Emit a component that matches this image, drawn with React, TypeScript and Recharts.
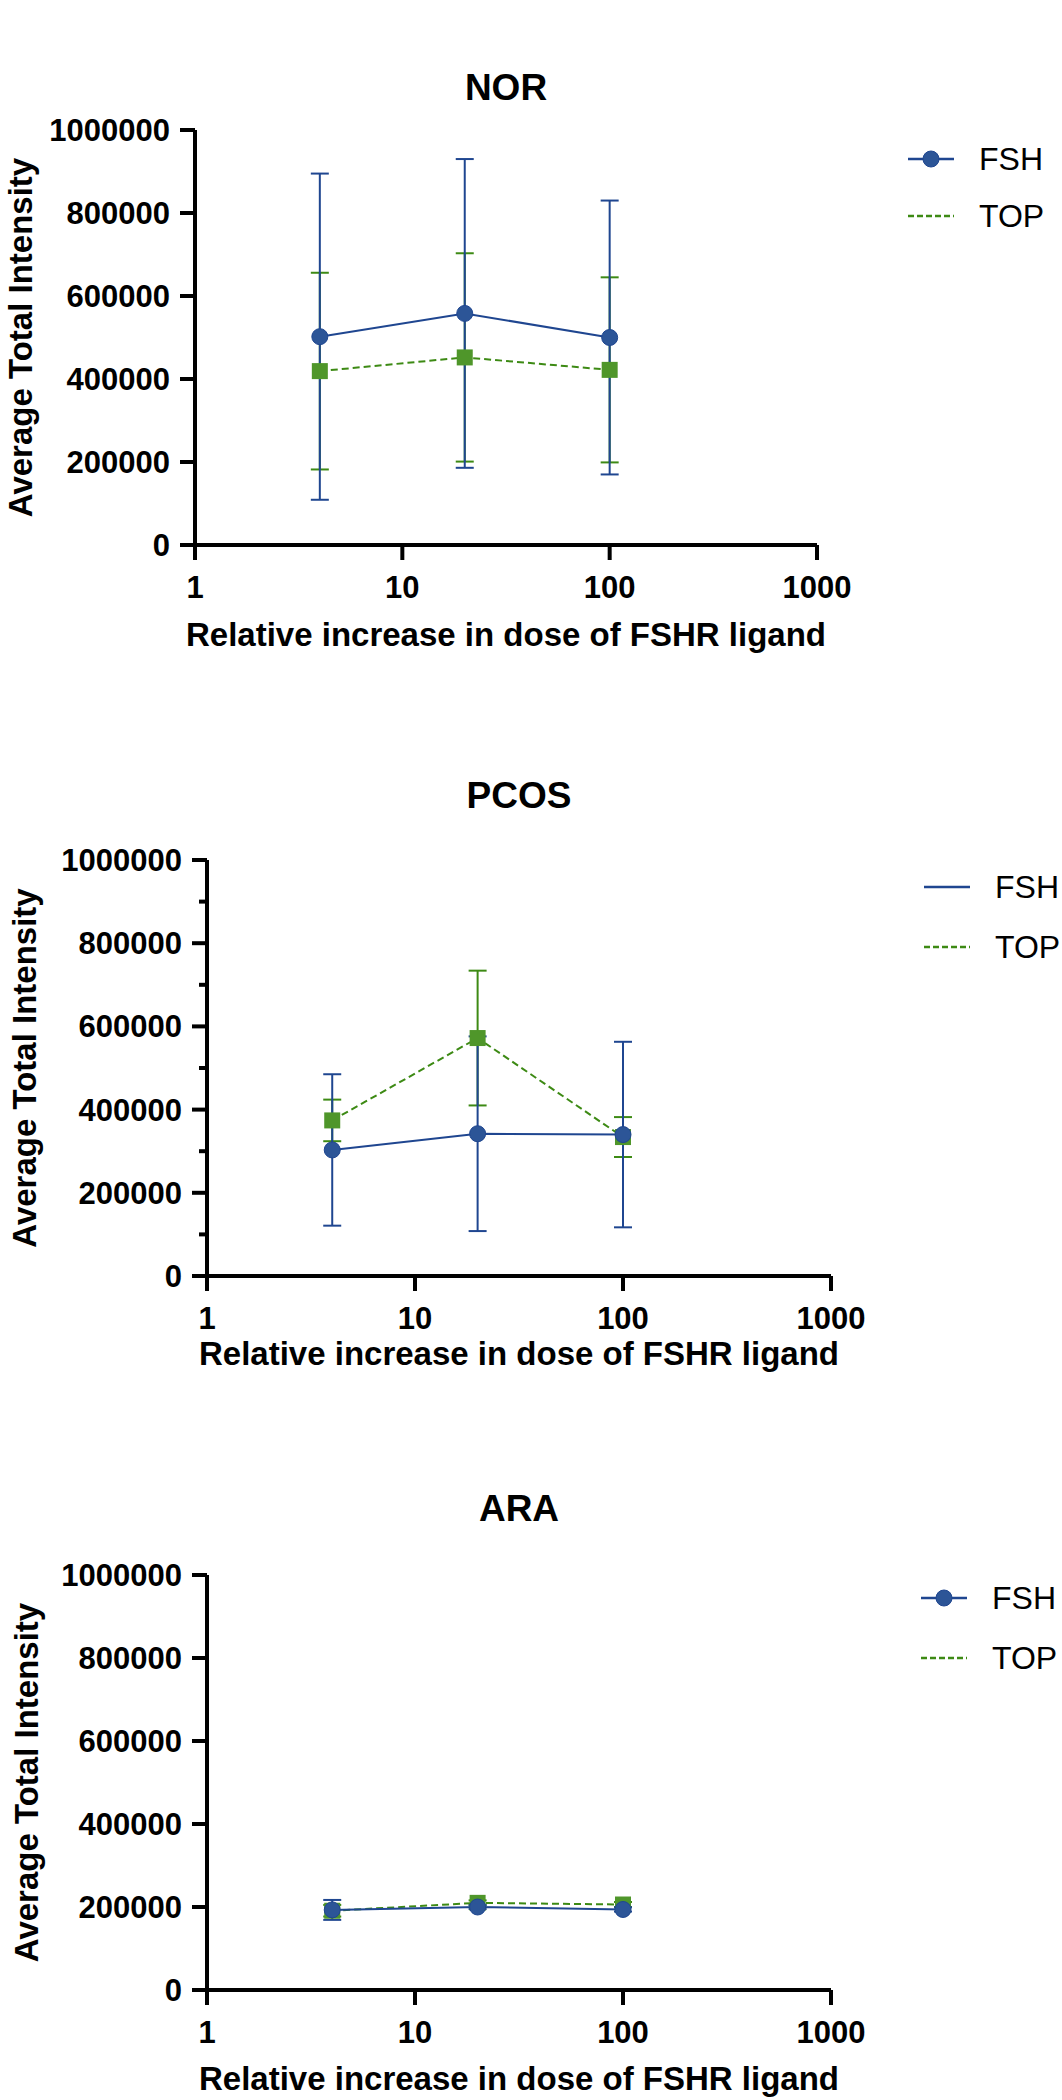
import React from "react";
import { LineChart, Line, XAxis, YAxis, ErrorBar } from "recharts";

// dose (relative increase) on the log x axis
const doses = [4, 20, 100];
const xTicks = [1, 10, 100, 1000];
const yTicks = [0, 200000, 400000, 600000, 800000, 1000000];
const yTicksWithMinor = [0, 100000, 200000, 300000, 400000, 500000, 600000, 700000, 800000, 900000, 1000000];

// NOR
const norFsh = [502000, 558000, 500000];
const norFshSd = [393000, 372000, 330000];
const norTop = [419000, 452000, 422000];
const norTopSd = [237000, 251000, 223000];

// PCOS
const pcosFsh = [303000, 342000, 340000];
const pcosFshSd = [182000, 234000, 223000];
const pcosTop = [374000, 572000, 334000];
const pcosTopSd = [50000, 162000, 48000];

// ARA
const araFsh = [193000, 200000, 194000];
const araFshSd = [24000, 5000, 5000];
const araTop = [191000, 210000, 206000];
const araTopSd = [14000, 6000, 6000];

const FSH_LINE = "#1f4690";
const FSH_FILL = "#2c5597";
const TOP_LINE = "#3d8a14";
const TOP_FILL = "#4f962a";
const FONT = "'Liberation Sans', Arial, Helvetica, sans-serif";

const TICK_SIZE = 15;
const TICK_MARGIN = 10;

type Panel = {
  title: string;
  fsh: number[];
  fshSd: number[];
  top: number[];
  topSd: number[];
  boxTop: number;
  height: number;
  marginTop: number;
  yWidth: number;
  marginRight: number;
  xHeight: number;
  titleY: number;
  xLabelY: number;
  yLabelX: number;
  legendX: number;
  legendY: number;
  legendGap: number;
  fshLegendDot: boolean;
  minor: boolean;
};

const panels: Panel[] = [
  {
    title: "NOR", fsh: norFsh, fshSd: norFshSd, top: norTop, topSd: norTopSd,
    boxTop: 0, height: 680, marginTop: 130, yWidth: 195, marginRight: 245, xHeight: 135,
    titleY: 87, xLabelY: 634, yLabelX: 20,
    legendX: 908, legendY: 159, legendGap: 57, fshLegendDot: true, minor: false,
  },
  {
    title: "PCOS", fsh: pcosFsh, fshSd: pcosFshSd, top: pcosTop, topSd: pcosTopSd,
    boxTop: 700, height: 680, marginTop: 160, yWidth: 207, marginRight: 231, xHeight: 104,
    titleY: 795, xLabelY: 1353, yLabelX: 24,
    legendX: 924, legendY: 887, legendGap: 60, fshLegendDot: false, minor: true,
  },
  {
    title: "ARA", fsh: araFsh, fshSd: araFshSd, top: araTop, topSd: araTopSd,
    boxTop: 1400, height: 700, marginTop: 175, yWidth: 207, marginRight: 231, xHeight: 110,
    titleY: 1508, xLabelY: 2078, yLabelX: 26,
    legendX: 921, legendY: 1598, legendGap: 60, fshLegendDot: true, minor: false,
  },
];

const tickStyle = { fill: "#000", fontSize: 31, fontWeight: 700, fontFamily: FONT };
const axisStroke = { stroke: "#000", strokeWidth: 4 };

const squareDot = (p: any) => (
  <rect key={`sq-${p.index}`} x={p.cx - 8} y={p.cy - 8} width={16} height={16} fill={TOP_FILL} />
);

// y tick: long tick + label on 200000 steps, short unlabelled tick between
const YTick = (props: any) => {
  const { x, y, payload } = props;
  const v = payload.value as number;
  const major = v % 200000 === 0;
  const axisX = x + TICK_SIZE + TICK_MARGIN;
  return (
    <g>
      <line x1={axisX - (major ? TICK_SIZE : 8)} x2={axisX} y1={y} y2={y} stroke="#000" strokeWidth={4} />
      {major && (
        <text x={x} y={y} dy="0.355em" textAnchor="end" {...tickStyle}>
          {String(v)}
        </text>
      )}
    </g>
  );
};

function Legend({ p }: { p: Panel }) {
  const rows = [
    { name: "FSH", color: FSH_LINE, dash: undefined as string | undefined, dot: p.fshLegendDot },
    { name: "TOP", color: TOP_LINE, dash: "6 3", dot: false },
  ];
  return (
    <>
      {rows.map((r, i) => (
        <div
          key={r.name}
          style={{
            position: "absolute",
            left: p.legendX,
            top: p.legendY + i * p.legendGap - 20,
            height: 40,
            display: "flex",
            alignItems: "center",
          }}
        >
          <svg width={46} height={20} style={{ display: "block" }}>
            <line x1={0} y1={10} x2={46} y2={10} stroke={r.color} strokeWidth={2.5} strokeDasharray={r.dash} />
            {r.dot && <circle cx={23} cy={10} r={8} fill={FSH_FILL} stroke={FSH_LINE} strokeWidth={1} />}
          </svg>
          <span style={{ marginLeft: 25, fontSize: 32, fontFamily: FONT, lineHeight: "32px", color: "#000" }}>
            {r.name}
          </span>
        </div>
      ))}
    </>
  );
}

const textBox = {
  position: "absolute" as const,
  transform: "translate(-50%, -50%)",
  fontWeight: 700,
  fontFamily: FONT,
  whiteSpace: "nowrap" as const,
  color: "#000",
};

function PanelChart({ p }: { p: Panel }) {
  const rows = doses.map((x, i) => ({
    x,
    fsh: p.fsh[i],
    fshSd: p.fshSd[i],
    top: p.top[i],
    topSd: p.topSd[i],
  }));
  const plotLeft = p.yWidth;
  const plotRight = 1062 - p.marginRight;
  const cx = (plotLeft + plotRight) / 2;

  const yLabel = (props: any) => {
    const vb = props.viewBox || {};
    const lx = (vb.x || 0) + p.yLabelX;
    const ly = (vb.y || 0) + (vb.height || 0) / 2;
    return (
      <text
        x={lx}
        y={ly}
        transform={`rotate(-90 ${lx} ${ly})`}
        textAnchor="middle"
        dominantBaseline="central"
        fill="#000"
        fontSize={33}
        fontWeight={700}
        fontFamily={FONT}
      >
        Average Total Intensity
      </text>
    );
  };

  return (
    <>
      <div style={{ ...textBox, left: cx, top: p.titleY, fontSize: 37, lineHeight: "37px" }}>{p.title}</div>
      <div style={{ position: "absolute", left: 0, top: p.boxTop, width: 1062, height: p.height }}>
        <LineChart
          width={1062}
          height={p.height}
          data={rows}
          margin={{ top: p.marginTop, right: p.marginRight, left: 0, bottom: 0 }}
        >
          <XAxis
            dataKey="x"
            type="number"
            scale="log"
            domain={[1, 1000]}
            ticks={xTicks}
            interval={0}
            allowDataOverflow
            height={p.xHeight}
            tickSize={15}
            tickMargin={16}
            axisLine={axisStroke}
            tickLine={axisStroke}
            tick={tickStyle}
          />
          <YAxis
            type="number"
            domain={[0, 1000000]}
            ticks={p.minor ? yTicksWithMinor : yTicks}
            interval={0}
            allowDataOverflow
            width={p.yWidth}
            tickSize={TICK_SIZE}
            tickMargin={TICK_MARGIN}
            axisLine={axisStroke}
            tickLine={false}
            tick={YTick}
            label={yLabel}
          />
          <Line
            dataKey="top"
            type="linear"
            stroke={TOP_LINE}
            strokeWidth={2}
            strokeDasharray="7 4"
            dot={squareDot}
            activeDot={false}
            isAnimationActive={false}
          >
            <ErrorBar dataKey="topSd" direction="y" width={9} strokeWidth={2} stroke={TOP_LINE} isAnimationActive={false} />
          </Line>
          <Line
            dataKey="fsh"
            type="linear"
            stroke={FSH_LINE}
            strokeWidth={2}
            dot={{ r: 8, fill: FSH_FILL, stroke: FSH_LINE, strokeWidth: 1 }}
            activeDot={false}
            isAnimationActive={false}
          >
            <ErrorBar dataKey="fshSd" direction="y" width={9} strokeWidth={2} stroke={FSH_LINE} isAnimationActive={false} />
          </Line>
        </LineChart>
      </div>
      <div style={{ ...textBox, left: cx, top: p.xLabelY, fontSize: 33, lineHeight: "33px" }}>
        Relative increase in dose of FSHR ligand
      </div>
      <Legend p={p} />
    </>
  );
}

export default function App() {
  return (
    <div
      style={{
        position: "absolute",
        left: 0,
        top: 0,
        width: 1062,
        height: 2100,
        background: "#fff",
        overflow: "hidden",
      }}
    >
      {panels.map((p) => (
        <PanelChart key={p.title} p={p} />
      ))}
    </div>
  );
}
